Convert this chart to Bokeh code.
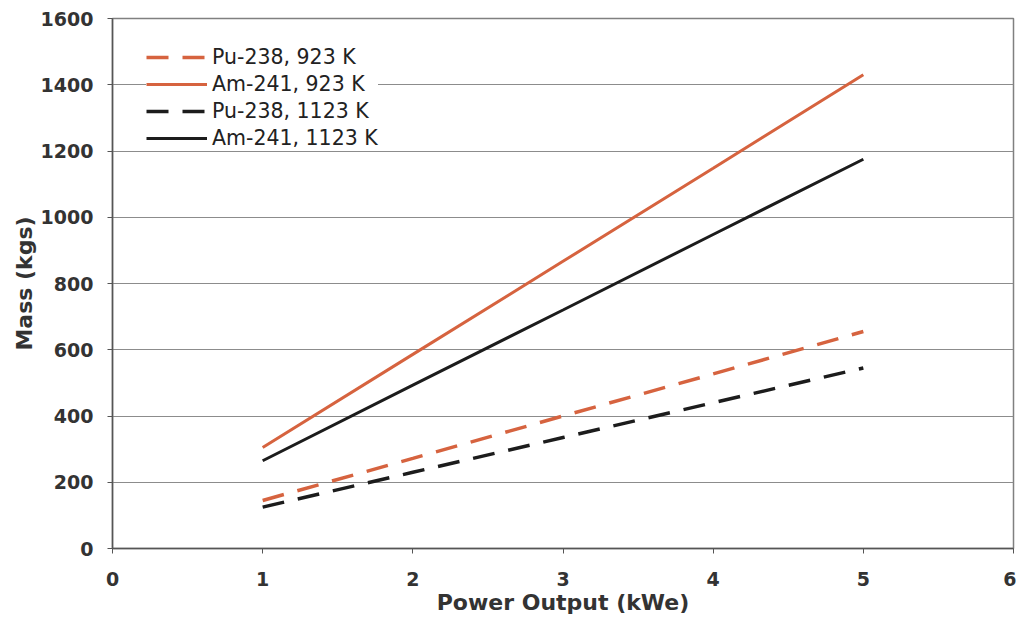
from bokeh.plotting import figure
from bokeh.embed import file_html
from bokeh.resources import INLINE
from bokeh.models import Legend, LegendItem, FixedTicker

power_kwe = [1, 2, 3, 4, 5]
pu238_923 = [145, 272, 400, 527, 655]
am241_923 = [305, 586, 867, 1148, 1430]
pu238_1123 = [125, 230, 335, 440, 545]
am241_1123 = [265, 493, 720, 948, 1175]

series_names = ["Pu-238, 923 K", "Am-241, 923 K", "Pu-238, 1123 K", "Am-241, 1123 K"]
x_ticks = [0, 1, 2, 3, 4, 5, 6]
y_ticks = [0, 200, 400, 600, 800, 1000, 1200, 1400, 1600]

RED = "#d6633f"
BLACK = "#1c1c1c"
FONT = "DejaVu Sans"

p = figure(width=1016, height=621, x_range=(0, 6), y_range=(0, 1600),
           output_backend="svg", toolbar_location=None,
           min_border_left=112, min_border_right=3, min_border_top=18, min_border_bottom=73,
           background_fill_color="#ffffff", border_fill_color="#ffffff")

p.outline_line_color = "#808080"
p.outline_line_width = 1.5

p.xgrid.grid_line_color = None
p.ygrid.grid_line_color = "#8c8c8c"
p.ygrid.grid_line_width = 1.2

for ax in (p.xaxis, p.yaxis):
    ax.axis_line_color = "#555555"
    ax.axis_line_width = 1.5
    ax.major_tick_line_color = "#555555"
    ax.major_tick_in = 0
    ax.major_tick_out = 5
    ax.minor_tick_line_color = None
    ax.major_label_text_font = FONT
    ax.major_label_text_font_style = "bold"
    ax.major_label_text_font_size = "19px"
    ax.major_label_text_color = "#333333"
    ax.axis_label_text_font = FONT
    ax.axis_label_text_font_style = "bold"
    ax.axis_label_text_font_size = "22px"
    ax.axis_label_text_color = "#333333"

p.xaxis.ticker = FixedTicker(ticks=x_ticks)
p.yaxis.ticker = FixedTicker(ticks=y_ticks)
p.xaxis.axis_label = "Power Output (kWe)"
p.yaxis.axis_label = "Mass (kgs)"
p.xaxis.major_label_standoff = 18
p.yaxis.major_label_standoff = 14
p.xaxis.axis_label_standoff = 1
p.yaxis.axis_label_standoff = 1

r1 = p.line(power_kwe, pu238_923, line_color=RED, line_width=3.5, line_dash="22 14")
r2 = p.line(power_kwe, am241_923, line_color=RED, line_width=3)
r3 = p.line(power_kwe, pu238_1123, line_color=BLACK, line_width=3.5, line_dash="22 14")
r4 = p.line(power_kwe, am241_1123, line_color=BLACK, line_width=3)

legend = Legend(items=[LegendItem(label=n, renderers=[r]) for n, r in zip(series_names, [r1, r2, r3, r4])],
                location=(34, 398))
legend.label_text_font = FONT
legend.label_text_font_size = "20.5px"
legend.label_text_color = "#222222"
legend.glyph_width = 61
legend.glyph_height = 24
legend.label_height = 24
legend.label_standoff = 5
legend.spacing = 3
legend.padding = 6
legend.margin = 0
legend.border_line_color = None
legend.background_fill_color = "#ffffff"
legend.background_fill_alpha = 1.0
p.add_layout(legend)

open("out.html", "w").write(file_html(p, INLINE))
